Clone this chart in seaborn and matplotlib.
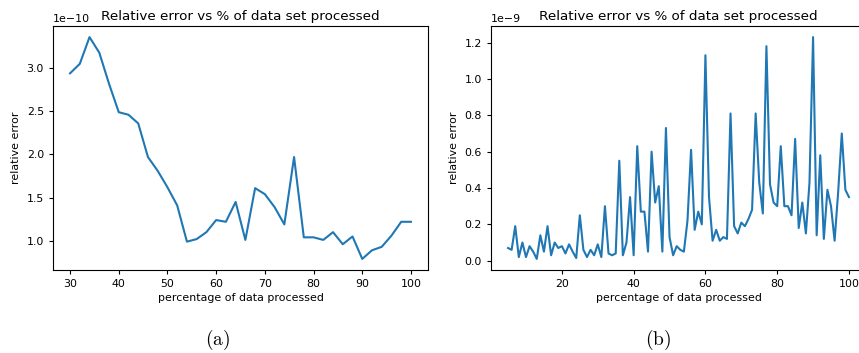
import numpy as np
import pandas as pd
import matplotlib
matplotlib.use("Agg")
import matplotlib.pyplot as plt
import seaborn as sns

# Panel (a): percentage processed (step 2) vs relative error (x1e-10)
pct_a = list(range(30, 101, 2))
err_a = [2.94, 3.05, 3.36, 3.18, 2.82, 2.49, 2.46, 2.36, 1.97, 1.81,
         1.62, 1.41, 0.99, 1.02, 1.10, 1.24, 1.22, 1.45, 1.01, 1.61,
         1.54, 1.39, 1.19, 1.97, 1.04, 1.04, 1.01, 1.10, 0.96, 1.05,
         0.79, 0.89, 0.93, 1.06, 1.22, 1.22]

# Panel (b): percentage processed (step 1) vs relative error (x1e-9)
pct_b = list(range(5, 101))
err_b = [0.07, 0.06, 0.19, 0.02, 0.10, 0.02, 0.08, 0.05, 0.01, 0.14,
         0.05, 0.19, 0.03, 0.10, 0.07, 0.08, 0.04, 0.09, 0.05, 0.015,
         0.25, 0.06, 0.02, 0.06, 0.03, 0.09, 0.02, 0.30, 0.04, 0.03,
         0.04, 0.55, 0.03, 0.10, 0.35, 0.03, 0.63, 0.27, 0.27, 0.05,
         0.60, 0.32, 0.41, 0.05, 0.73, 0.13, 0.03, 0.08, 0.06, 0.05,
         0.22, 0.61, 0.17, 0.27, 0.20, 1.13, 0.35, 0.11, 0.17, 0.11,
         0.13, 0.12, 0.81, 0.19, 0.15, 0.21, 0.19, 0.23, 0.28, 0.81,
         0.43, 0.26, 1.18, 0.42, 0.32, 0.30, 0.63, 0.30, 0.30, 0.25,
         0.67, 0.18, 0.32, 0.15, 0.43, 1.23, 0.14, 0.58, 0.12, 0.39,
         0.30, 0.11, 0.38, 0.70, 0.39, 0.35]

title = "Relative error vs % of data set processed"
xlabel = "percentage of data processed"
ylabel = "relative error"
captions = ["(a)", "(b)"]

df_a = pd.DataFrame({"pct": pct_a, "err": np.array(err_a) * 1e-10})
df_b = pd.DataFrame({"pct": pct_b, "err": np.array(err_b) * 1e-9})

W, H = 859, 353
fig = plt.figure(figsize=(W / 100, H / 100), dpi=100)
ax_a = fig.add_axes([53 / W, 1 - 270 / H, 375 / W, 244 / H])
ax_b = fig.add_axes([491 / W, 1 - 270 / H, 375 / W, 244 / H])

for ax, df in ((ax_a, df_a), (ax_b, df_b)):
    sns.lineplot(data=df, x="pct", y="err", ax=ax, color="#1f77b4", linewidth=1.5)
    ax.set_title(title, fontsize=9.7, pad=4)
    ax.set_xlabel(xlabel, fontsize=7.9, labelpad=3)
    ax.set_ylabel(ylabel, fontsize=7.9, labelpad=4)
    ax.tick_params(labelsize=7.9, length=3)
    ax.yaxis.get_offset_text().set_fontsize(7.9)

for cap, xpix in zip(captions, (218, 658)):
    t = fig.text(xpix / W, 1 - 340 / H, r"$\mathrm{%s}$" % cap,
                 ha="center", va="center", fontsize=14)
    t.set_math_fontfamily("cm")

fig.savefig("out.png", dpi=100)
